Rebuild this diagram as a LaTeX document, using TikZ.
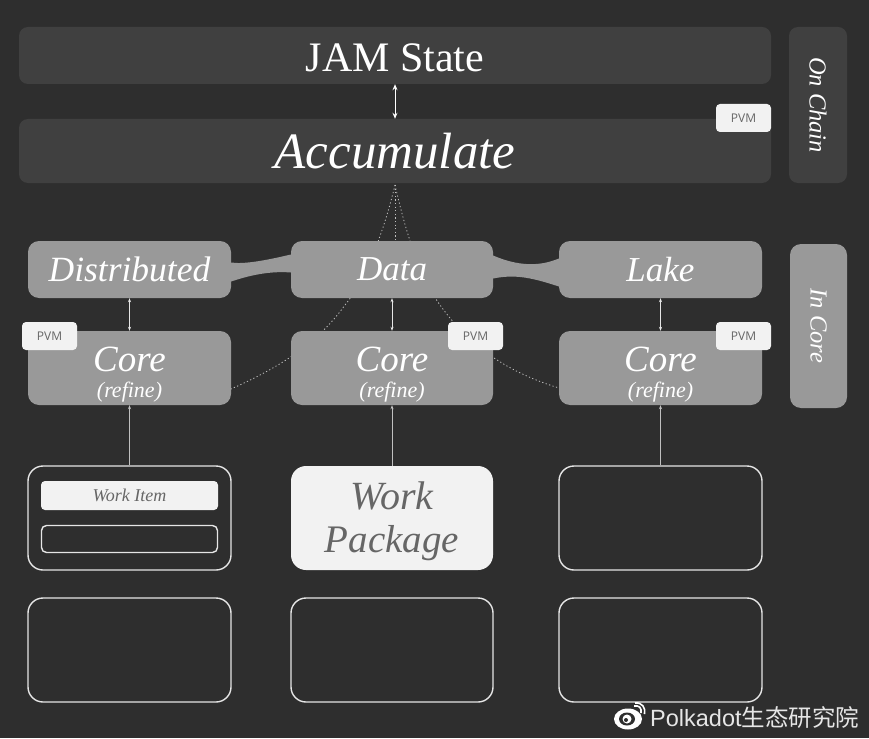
\documentclass[tikz,border=0pt]{standalone}
\usepackage{fontspec}
\setmainfont{Liberation Serif}
\newfontfamily\markfont{Liberation Sans}
\newfontfamily\cjkfont{Noto Sans CJK SC}
\newfontfamily\pvmfont{Open Sans}
\usetikzlibrary{arrows.meta,calc}
\definecolor{bgdark}{HTML}{2E2E2E}
\definecolor{chainbox}{HTML}{404040}
\definecolor{coregray}{HTML}{999999}
\definecolor{paper}{HTML}{F2F2F2}
\definecolor{inkgray}{HTML}{666666}
\definecolor{wireline}{HTML}{E6E6E6}
\newcommand{\fsize}[1]{\fontsize{#1}{#1}\selectfont}
\tikzset{
  chain/.style={fill=chainbox,rounded corners=9pt,inner sep=0pt,text=white},
  core/.style={fill=coregray,rounded corners=11pt,inner sep=0pt,text=white,
    minimum width=203pt,font=\itshape},
  pvm/.style={fill=paper,rounded corners=4pt,inner sep=0pt,text=inkgray,
    minimum width=55pt,minimum height=28pt,font=\pvmfont\fsize{12}},
  slot/.style={draw=wireline,line width=1.4pt,rounded corners=15pt,inner sep=0pt,
    minimum width=203pt,minimum height=104pt},
  link/.style={wireline,line width=0.6pt,{Stealth[length=4pt,width=3pt]}-{Stealth[length=4pt,width=3pt]}},
  feed/.style={white!70!bgdark,line width=0.6pt,-{Stealth[length=4pt,width=3pt]}},
  dots/.style={white!70!bgdark,line width=0.8pt,dash pattern=on 1.2pt off 2.4pt},
}
\begin{document}
\begin{tikzpicture}[x=1pt,y=-1pt]
  \fill[bgdark] (0,0) rectangle (869,738);
  \useasboundingbox (0,0) rectangle (869,738);
  \coordinate (apex) at (395,185);
  % dotted lines go under the boxes
  \draw[dots] (apex) -- (395,241);
  \draw[dots] (apex) .. controls (388,215) and (370,275) .. (345,305)
              .. controls (320,340) and (285,365) .. (231,389);
  \draw[dots] (apex) .. controls (402,215) and (415,270) .. (440,305)
              .. controls (465,340) and (500,370) .. (559,388);
  \node[chain,minimum width=752pt,minimum height=57pt,text height=32pt,text depth=0pt,font=\fsize{42}] (state) at (395,55.5) {JAM State};
  \node[chain,minimum width=752pt,minimum height=64pt,font=\itshape\fsize{51}] (accu) at (395,151) {Accumulate};
  \node[chain,minimum width=156pt,minimum height=58pt,rotate=-90,font=\itshape\fsize{24.5}] (chainlbl) at (818,105) {On Chain};
  \node[core,minimum width=164pt,minimum height=57pt,rotate=-90,font=\itshape\fsize{24.5}] (corelbl) at (818.5,326) {In Core};
  \node[core,minimum height=57pt,font=\itshape\fsize{35.5}] (dist) at (129.5,269.5) {Distributed};
  \node[core,minimum width=202pt,minimum height=57pt,font=\itshape\fsize{35}] (data) at (392,269.5) {Data};
  \node[core,minimum height=57pt,font=\itshape\fsize{35}] (lake) at (660.5,269.5) {Lake};
  \fill[coregray] ([yshift=7pt]dist.east) .. controls +(12,2) and +(-25,6) .. ([yshift=15pt]data.west)
     -- ([yshift=-3pt]data.west) .. controls +(-25,-2) and +(12,-4) .. ([yshift=-12pt]dist.east) -- cycle;
  \fill[coregray] ([yshift=14pt]data.east) .. controls +(32,14) and +(-12,5) .. ([yshift=11pt]lake.west)
     -- ([yshift=-17pt]lake.west) .. controls +(-30,-10) and +(20,-4) .. ([yshift=-9pt]data.east) -- cycle;
  \foreach \nm/\x/\w in {coreA/129.5/203,coreB/392/202,coreC/660.5/203}{
    \node[core,minimum width=\w pt,minimum height=74pt,align=center] (\nm) at (\x,368) {%
      {\fsize{37}\rule{0pt}{37pt}Core}\\[9pt]{\fsize{22}(refine)}};
  }
  \node[pvm] (pvmaccu) at (743.5,118) {PVM};
  \node[pvm] (pvmA) at (49.5,336) {PVM};
  \node[pvm] (pvmB) at (475.5,336) {PVM};
  \node[pvm] (pvmC) at (743.5,336) {PVM};
  \node[slot] (itemsA) at (129.5,518) {};
  \node[fill=paper,rounded corners=15pt,inner sep=0pt,minimum width=202pt,minimum height=104pt,
    align=center,text=inkgray,font=\itshape\fsize{40}] (package) at (392,518) {\rule{0pt}{35pt}Work\\[3pt]{\fsize{39}Package}};
  \node[slot] (itemsC) at (660.5,518) {};
  \node[fill=paper,rounded corners=4pt,inner sep=0pt,minimum width=177pt,minimum height=29pt,
    text=inkgray,font=\itshape\fsize{18}] (item) at (129.5,495.5) {Work Item};
  \node[draw=wireline,line width=1.4pt,rounded corners=5pt,inner sep=0pt,
    minimum width=176pt,minimum height=27pt] (itemempty) at (129.5,539) {};
  \node[slot] (lowA) at (129.5,650) {};
  \node[slot,minimum width=202pt] (lowB) at (392,650) {};
  \node[slot] (lowC) at (660.5,650) {};
  \draw[white,line width=1pt,{Stealth[length=6pt,width=5pt]}-{Stealth[length=6pt,width=5pt]}] (state) -- (accu);
  \draw[link] (dist) -- (coreA);
  \draw[link] (data) -- (coreB);
  \draw[link] (lake) -- (coreC);
  \draw[feed] (itemsA) -- (coreA);
  \draw[feed] (package) -- (coreB);
  \draw[feed] (itemsC) -- (coreC);
  % watermark
  \fill[white] (628,719) ellipse (14pt and 10.5pt);
  \fill[bgdark] (627,719) ellipse (8pt and 6.5pt);
  \fill[white] (627,719) circle (4.5pt);
  \fill[bgdark] (626,720) circle (2pt);
  \draw[white,line width=1.6pt] (634,706) .. controls (639,705) and (642,708) .. (641,713);
  \draw[white,line width=1.6pt] (635,703) .. controls (642,702) and (646,708) .. (644.5,714);
  \node[anchor=west,inner sep=0pt,text=wireline] (mark) at (650,718) {\markfont\fsize{23.5}Polkadot\cjkfont 生态研究院};
\end{tikzpicture}
\end{document}
